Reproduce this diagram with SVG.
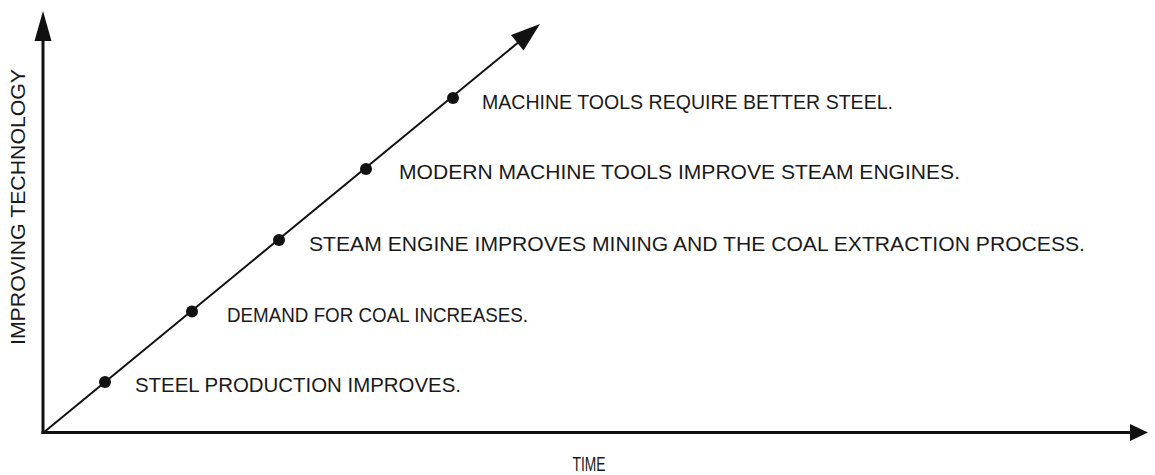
<svg xmlns="http://www.w3.org/2000/svg" width="1155" height="475" viewBox="0 0 1155 475">
<style>
.ax{stroke:#111;stroke-width:3;fill:none}
.dg{stroke:#111;stroke-width:2;fill:none}
.hd{fill:#111;stroke:none}
.dot{fill:#111}
.lb{font-family:"Liberation Sans",Arial,sans-serif;font-size:21px;fill:#1a1a1a}
</style>
<rect width="1155" height="475" fill="#fff"/>
<g id="connectors">
<line class="ax" x1="43" y1="434" x2="43" y2="38"/>
<polygon class="hd" points="43,11 34.5,41 51.5,41"/>
<line class="ax" x1="41.5" y1="432.5" x2="1134" y2="432.5"/>
<polygon class="hd" points="1148,432.5 1130,424 1130,441"/>
<line class="dg" x1="43" y1="433" x2="520" y2="41"/>
<polygon class="hd" points="540,24 511,35 523.5,50.5"/>
</g>
<g id="axis-y-label"><text class="lb" transform="translate(25,207) rotate(-90)" text-anchor="middle" textLength="276" lengthAdjust="spacingAndGlyphs">IMPROVING TECHNOLOGY</text></g>
<g id="axis-x-label"><text class="lb" x="589" y="471" text-anchor="middle" font-size="18" textLength="33" lengthAdjust="spacingAndGlyphs">TIME</text></g>
<g id="n1"><circle class="dot" cx="105" cy="382" r="6"/><text class="lb" x="135" y="392" textLength="326" lengthAdjust="spacingAndGlyphs">STEEL PRODUCTION IMPROVES.</text></g>
<g id="n2"><circle class="dot" cx="192" cy="311.5" r="6"/><text class="lb" x="227" y="322" textLength="301" lengthAdjust="spacingAndGlyphs">DEMAND FOR COAL INCREASES.</text></g>
<g id="n3"><circle class="dot" cx="279" cy="240" r="6"/><text class="lb" x="309" y="251" textLength="776" lengthAdjust="spacingAndGlyphs">STEAM ENGINE IMPROVES MINING AND THE COAL EXTRACTION PROCESS.</text></g>
<g id="n4"><circle class="dot" cx="366" cy="169" r="6"/><text class="lb" x="399" y="179" textLength="561" lengthAdjust="spacingAndGlyphs">MODERN MACHINE TOOLS IMPROVE STEAM ENGINES.</text></g>
<g id="n5"><circle class="dot" cx="453" cy="98" r="6"/><text class="lb" x="482" y="109" textLength="411" lengthAdjust="spacingAndGlyphs">MACHINE TOOLS REQUIRE BETTER STEEL.</text></g>
</svg>
